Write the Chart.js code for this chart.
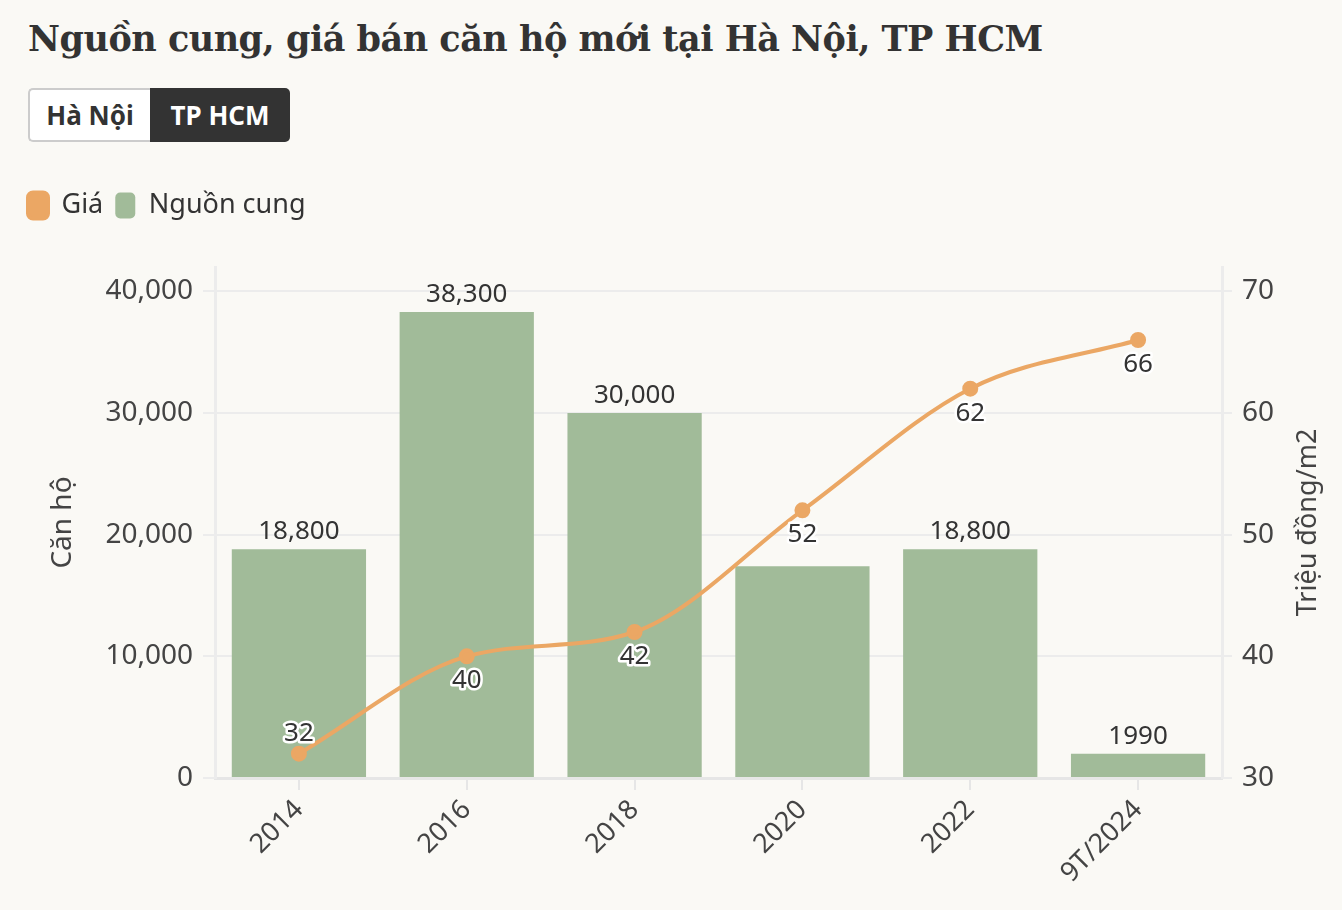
<!DOCTYPE html>
<html lang="vi">
<head>
<meta charset="utf-8">
<script src="https://cdn.jsdelivr.net/npm/chart.js@4"></script>
<style>
  html, body { margin: 0; padding: 0; background: #faf9f5; }
  body { width: 1342px; height: 910px; position: relative; overflow: hidden; font-family: "Noto Sans", sans-serif; color: #333; }
  h1 { position: absolute; left: 28px; top: 18px; margin: 0; font-family: "DejaVu Serif", serif; font-weight: bold; font-size: 35px; color: #333; letter-spacing: -0.5px; }
  .tabs { position: absolute; left: 28px; top: 88px; display: flex; height: 54px; }
  .tabs div { font-weight: bold; font-size: 26px; line-height: 50px; box-sizing: border-box; height: 54px; white-space: nowrap; text-align: center; }
  .tabs .off { background: #fff; border: 2px solid #ccc; border-right: none; border-radius: 5px 0 0 5px; color: #333; width: 122px; }
  .tabs .on { background: #333; color: #fff; border-radius: 0 5px 5px 0; width: 140px; line-height: 54px; }
  #wrap { position: absolute; left: 0; top: 180px; width: 1342px; height: 730px; }
</style>
</head>
<body>
<h1>Nguồn cung, giá bán căn hộ mới tại Hà Nội, TP HCM</h1>
<div class="tabs"><div class="off">Hà Nội</div><div class="on">TP HCM</div></div>
<div id="wrap"><canvas id="myChart"></canvas></div>
<script>
var years = ['2014', '2016', '2018', '2020', '2022', '9T/2024'];
var supply = [18800, 38300, 30000, 17400, 18800, 1990];
var supplyLabels = ['18,800', '38,300', '30,000', '', '18,800', '1990'];
var price = [32, 40, 42, 52, 62, 66];
var priceAbove = [true, false, false, false, false, false];
var supplyTicks = [0, 10000, 20000, 30000, 40000];
var priceTicks = [30, 40, 50, 60, 70];

var orange = '#eba764';
var green = '#a1bb99';
var tickFont = { family: 'Noto Sans', size: 28 };

// value labels + right axis title (reads bottom to top)
var valueLabels = {
  id: 'valueLabels',
  afterInit: function (chart) {
    // leave a gap under the legend
    var legend = chart.legend;
    var fit = legend.fit;
    legend.fit = function () { fit.call(this); this.height += 38; };
  },
  afterDatasetsDraw: function (chart) {
    var ctx = chart.ctx;
    var area = chart.chartArea;
    ctx.save();
    ctx.textAlign = 'center';
    ctx.textBaseline = 'alphabetic';
    ctx.font = '26px "Noto Sans"';
    chart.getDatasetMeta(1).data.forEach(function (bar, i) {
      if (!supplyLabels[i]) return;
      ctx.fillStyle = '#333';
      ctx.fillText(supplyLabels[i], bar.x, bar.y - 10);
    });
    chart.getDatasetMeta(0).data.forEach(function (pt, i) {
      var y = priceAbove[i] ? pt.y - 13 : pt.y + 32;
      ctx.lineJoin = 'round';
      ctx.lineWidth = 5;
      ctx.strokeStyle = '#fff';
      ctx.strokeText(String(price[i]), pt.x, y);
      ctx.fillStyle = '#333';
      ctx.fillText(String(price[i]), pt.x, y);
    });
    ctx.translate(1308, (area.top + area.bottom) / 2);
    ctx.rotate(-Math.PI / 2);
    ctx.textBaseline = 'middle';
    ctx.font = '27px "Noto Sans"';
    ctx.fillStyle = '#444';
    ctx.fillText('Triệu đồng/m2', 0, 0);
    ctx.restore();
  }
};

new Chart('myChart', {
  type: 'bar',
  data: {
    labels: years,
    datasets: [{
      type: 'line',
      label: 'Giá',
      data: price,
      yAxisID: 'y1',
      borderColor: orange,
      backgroundColor: orange,
      borderWidth: 4,
      pointRadius: 6,
      pointHoverRadius: 6,
      cubicInterpolationMode: 'monotone',
      order: 0
    }, {
      label: 'Nguồn cung',
      data: supply,
      yAxisID: 'y',
      backgroundColor: green,
      barPercentage: 0.8,
      categoryPercentage: 1.0,
      order: 1
    }]
  },
  options: {
    responsive: true,
    maintainAspectRatio: false,
    animation: false,
    layout: { padding: { left: 16, right: 0, top: 0, bottom: 0 } },
    plugins: {
      legend: {
        display: true,
        position: 'top',
        align: 'start',
        labels: {
          font: { family: 'Noto Sans', size: 27 },
          color: '#333',
          boxWidth: 20,
          boxHeight: 26,
          useBorderRadius: true,
          borderRadius: 5,
          padding: 12
        }
      },
      tooltip: { enabled: false }
    },
    scales: {
      x: {
        grid: { display: true, drawOnChartArea: false, offset: false, color: '#e6e6e6', lineWidth: 2, tickLength: 12 },
        border: { color: '#e6e6e6', width: 3 },
        ticks: { font: { family: 'Noto Sans', size: 27 }, color: '#444', maxRotation: 45, minRotation: 45, padding: 4 },
        afterFit: function (axis) { axis.height = 132; }
      },
      y: {
        position: 'left',
        min: 0,
        max: 42000,
        afterBuildTicks: function (axis) {
          axis.ticks = supplyTicks.map(function (v) { return { value: v }; });
        },
        ticks: {
          font: tickFont,
          color: '#444',
          padding: 10,
          callback: function (v) { return v.toLocaleString('en-US'); }
        },
        grid: { color: '#ececec', lineWidth: 2, tickLength: 12 },
        border: { color: '#ececec', width: 3 },
        title: { display: true, text: 'Căn hộ', font: { family: 'Noto Sans', size: 28 }, color: '#444', padding: { top: 30, bottom: 0 } },
        afterFit: function (axis) { axis.width = 199; }
      },
      y1: {
        position: 'right',
        min: 30,
        max: 72,
        afterBuildTicks: function (axis) {
          axis.ticks = priceTicks.map(function (v) { return { value: v }; });
        },
        ticks: { font: tickFont, color: '#444', padding: 10 },
        grid: { drawOnChartArea: false, color: '#ececec', lineWidth: 2, tickLength: 10 },
        border: { color: '#ececec', width: 3 },
        title: { display: false },
        afterFit: function (axis) { axis.width = 120; }
      }
    }
  },
  plugins: [valueLabels]
});
</script>
</body>
</html>
